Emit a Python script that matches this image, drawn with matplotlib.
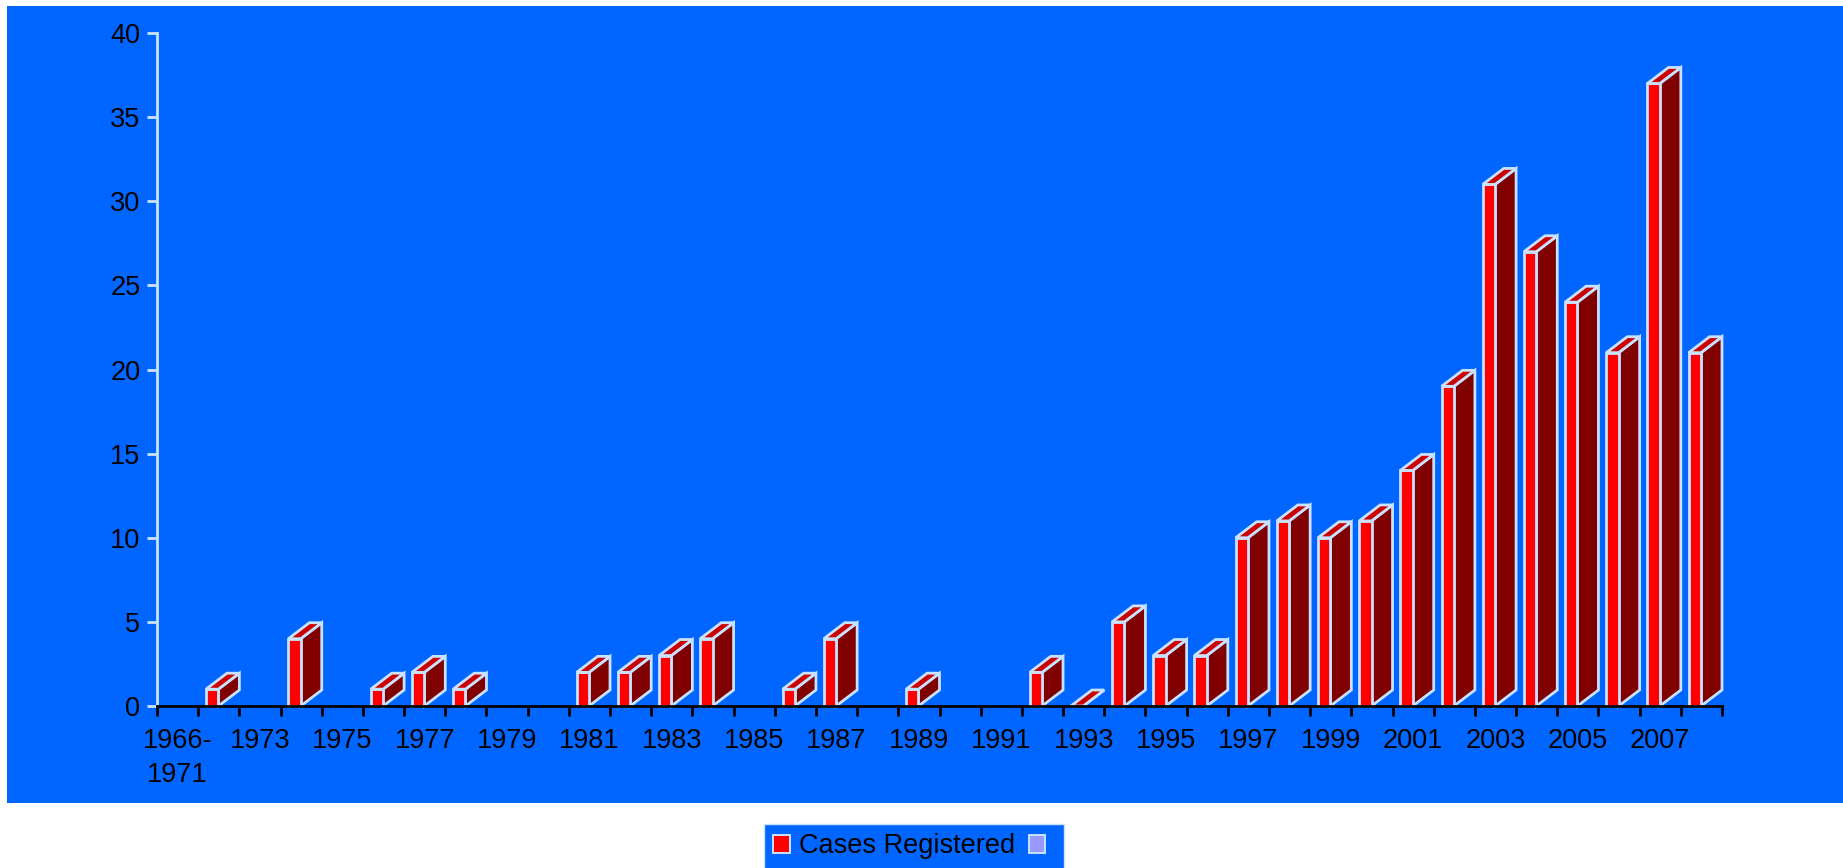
import numpy as np
import matplotlib
matplotlib.use('Agg')
import matplotlib.pyplot as plt
from matplotlib.patches import Polygon, Rectangle, Patch

plt.rcParams['font.family'] = ['Liberation Sans', 'DejaVu Sans']

# data (nan = no bar drawn)
categories = ['1966-\n1971'] + [str(y) for y in range(1972, 2009)]
cases = [np.nan, 1, np.nan, 4, np.nan, 1, 2, 1, np.nan, np.nan,
         2, 2, 3, 4, np.nan, 1, 4, np.nan, 1, np.nan,
         np.nan, 2, 0, 5, 3, 3, 10, 11, 10, 11,
         14, 19, 31, 27, 24, 21, 37, 21]
series_names = ['Cases Registered', '']

bg = '#0066FF'
edge = '#C8E2FF'
front_c, side_c, top_c = '#FF0000', '#800000', '#CC0000'
fs = 19.5

fig = plt.figure(figsize=(18.43, 8.68), dpi=100, facecolor='white')
fig.patches.append(Rectangle((7/1843, 65/868), 1 - 7/1843, 1 - 71/868,
                             transform=fig.transFigure, facecolor=bg,
                             edgecolor='none', zorder=-10))

ax = fig.add_axes([157/1843, 162/868, 1565/1843, 673/868])
ax.set_facecolor('none')
n = len(categories)
ax.set_xlim(0, n)
ax.set_ylim(0, 40)

off, w = 0.19, 0.30   # front face position inside slot
dx, dy = 0.51, 0.95   # depth of the 3d effect, data units
lw = 2.0

x = np.arange(n) + off
vals = np.array(cases, dtype=float)
ok = ~np.isnan(vals)
ax.bar(x[ok], vals[ok], width=w, align='edge', color=front_c,
       edgecolor=edge, linewidth=lw, zorder=3, clip_on=False)
for xi, v in zip(x[ok], vals[ok]):
    side = [(xi + w, 0), (xi + w + dx, dy), (xi + w + dx, v + dy), (xi + w, v)]
    top = [(xi, v), (xi + dx, v + dy), (xi + w + dx, v + dy), (xi + w, v)]
    ax.add_patch(Polygon(side, closed=True, facecolor=side_c, edgecolor=edge,
                         linewidth=lw, zorder=2, clip_on=False))
    ax.add_patch(Polygon(top, closed=True, facecolor=top_c, edgecolor=edge,
                         linewidth=lw, zorder=4, clip_on=False))

for s in ['top', 'right']:
    ax.spines[s].set_visible(False)
ax.spines['left'].set_color(edge)
ax.spines['left'].set_linewidth(2)
ax.spines['bottom'].set_color('black')
ax.spines['bottom'].set_linewidth(2)
ax.spines['bottom'].set_zorder(5)

ax.set_yticks(range(0, 41, 5))
ax.tick_params(axis='y', colors=edge, labelcolor='black', length=7,
               width=2, labelsize=fs, pad=5)

ax.set_xticks(range(n + 1))
ax.set_xticklabels([])
ax.set_xticks(np.arange(0, n, 2) + 0.5, minor=True)
ax.set_xticklabels(categories[::2], minor=True, linespacing=1.4)
ax.tick_params(axis='x', which='major', colors='black', length=7, width=2)
ax.tick_params(axis='x', which='minor', length=0, labelsize=fs, pad=16)

handles = [Patch(facecolor=front_c, edgecolor=edge, linewidth=1.4),
           Patch(facecolor='#9999FF', edgecolor=edge, linewidth=1.4)]
leg = fig.legend(handles, series_names, loc='upper center', ncol=2,
                 bbox_to_anchor=(914/1843, 44/868), fontsize=fs,
                 frameon=True, fancybox=False, framealpha=1,
                 facecolor=bg, edgecolor=edge, handlelength=0.6,
                 handleheight=0.6, handletextpad=0.35, columnspacing=0.5,
                 borderpad=0.35, borderaxespad=0)

fig.savefig('out.png', dpi=100, facecolor='white')
